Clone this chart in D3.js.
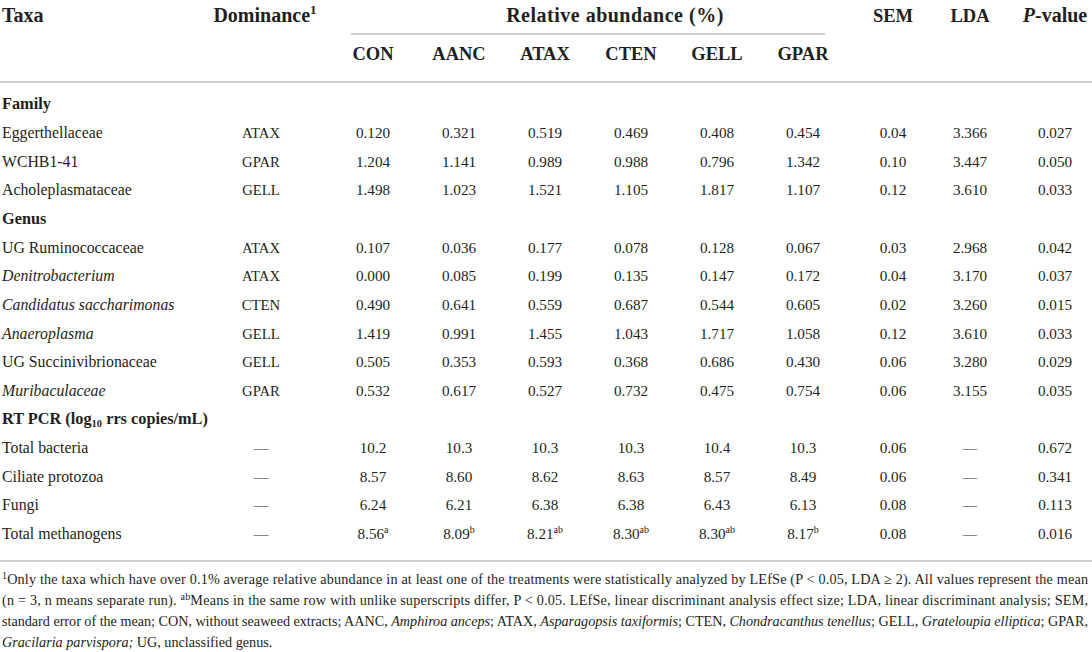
<!DOCTYPE html>
<html>
<head>
<meta charset="utf-8">
<script src="https://cdn.jsdelivr.net/npm/d3@7"></script>
<style>
  body { margin: 0; background: #fff; }
  svg { display: block; font-family: "Liberation Serif", "Times New Roman", serif; fill: #231f20; }
</style>
</head>
<body>
<div id="table"></div>
<script>
// table contents
var treatments = ["CON", "AANC", "ATAX", "CTEN", "GELL", "GPAR"];
var sections = ["Family", "Genus", "RT PCR"];
var familyTaxa = ["Eggerthellaceae", "WCHB1-41", "Acholeplasmataceae"];
var genusTaxa = ["UG Ruminococcaceae", "Denitrobacterium", "Candidatus saccharimonas", "Anaeroplasma", "UG Succinivibrionaceae", "Muribaculaceae"];
var genusItalic = [false, true, true, true, false, true];
var pcrTaxa = ["Total bacteria", "Ciliate protozoa", "Fungi", "Total methanogens"];
var dominance = ["ATAX", "GPAR", "GELL", "ATAX", "ATAX", "CTEN", "GELL", "GELL", "GPAR", "—", "—", "—", "—"];
var con  = ["0.120", "1.204", "1.498", "0.107", "0.000", "0.490", "1.419", "0.505", "0.532", "10.2", "8.57", "6.24", "8.56"];
var aanc = ["0.321", "1.141", "1.023", "0.036", "0.085", "0.641", "0.991", "0.353", "0.617", "10.3", "8.60", "6.21", "8.09"];
var atax = ["0.519", "0.989", "1.521", "0.177", "0.199", "0.559", "1.455", "0.593", "0.527", "10.3", "8.62", "6.38", "8.21"];
var cten = ["0.469", "0.988", "1.105", "0.078", "0.135", "0.687", "1.043", "0.368", "0.732", "10.3", "8.63", "6.38", "8.30"];
var gell = ["0.408", "0.796", "1.817", "0.128", "0.147", "0.544", "1.717", "0.686", "0.475", "10.4", "8.57", "6.43", "8.30"];
var gpar = ["0.454", "1.342", "1.107", "0.067", "0.172", "0.605", "1.058", "0.430", "0.754", "10.3", "8.49", "6.13", "8.17"];
var sem  = ["0.04", "0.10", "0.12", "0.03", "0.04", "0.02", "0.12", "0.06", "0.06", "0.06", "0.06", "0.08", "0.08"];
var lda  = ["3.366", "3.447", "3.610", "2.968", "3.170", "3.260", "3.610", "3.280", "3.155", "—", "—", "—", "—"];
var pValue = ["0.027", "0.050", "0.033", "0.042", "0.037", "0.015", "0.033", "0.029", "0.035", "0.672", "0.341", "0.113", "0.016"];
// superscripts on the last row (total methanogens)
var methanogenSup = ["a", "b", "ab", "ab", "ab", "b"];

var width = 1092, height = 652;
var ink = "#231f20", rule = "#cfcfcf";

var svg = d3.select("#table").append("svg")
  .attr("width", width)
  .attr("height", height);

// build the row list: section headings + data rows
var valueCols = [con, aanc, atax, cten, gell, gpar];
var rows = [];
var k = 0;
rows.push({ head: true, label: sections[0] });
familyTaxa.forEach(function(t) { rows.push({ label: t, italic: false, i: k++ }); });
rows.push({ head: true, label: sections[1] });
genusTaxa.forEach(function(t, j) { rows.push({ label: t, italic: genusItalic[j], i: k++ }); });
rows.push({ head: true, label: sections[2], pcr: true });
pcrTaxa.forEach(function(t) { rows.push({ label: t, italic: false, i: k++ }); });

var y = d3.scalePoint().domain(d3.range(rows.length)).range([109.4, 539]);
var x = d3.scalePoint().domain(treatments).range([373, 803]);
var xDom = 261, xSem = 893, xLda = 970, xP = 1055;

// rules
svg.append("line").attr("x1", 351).attr("x2", 825).attr("y1", 34).attr("y2", 34)
  .attr("stroke", rule).attr("stroke-width", 2);
svg.append("line").attr("x1", 0).attr("x2", width).attr("y1", 82).attr("y2", 82)
  .attr("stroke", rule).attr("stroke-width", 2);
svg.append("line").attr("x1", 0).attr("x2", width).attr("y1", 561).attr("y2", 561)
  .attr("stroke", rule).attr("stroke-width", 2);

// header (caps set a little smaller so widths follow the original face)
var hdr = svg.append("g").attr("font-weight", "bold").attr("font-size", 20).attr("fill", ink);
hdr.append("text").attr("x", 2).attr("y", 22).text("Taxa");
var dom = hdr.append("text").attr("x", xDom + 4).attr("y", 22).attr("text-anchor", "middle");
dom.append("tspan").text("Dominance");
dom.append("tspan").attr("font-size", 13).attr("dy", -8).text("1");
hdr.append("text").attr("x", 615).attr("y", 22).attr("text-anchor", "middle")
  .attr("letter-spacing", 0.5).text("Relative abundance (%)");
hdr.append("text").attr("x", xSem).attr("y", 22).attr("text-anchor", "middle").attr("font-size", 18.5).text("SEM");
hdr.append("text").attr("x", xLda).attr("y", 22).attr("text-anchor", "middle").attr("font-size", 18.5).text("LDA");
var pv = hdr.append("text").attr("x", xP).attr("y", 22).attr("text-anchor", "middle");
pv.append("tspan").attr("font-style", "italic").text("P");
pv.append("tspan").text("-value");
hdr.selectAll("text.trt").data(treatments).join("text")
  .attr("class", "trt")
  .attr("x", function(d) { return x(d); })
  .attr("y", 60)
  .attr("font-size", 18.5)
  .attr("text-anchor", "middle")
  .text(function(d) { return d; });

// body
var body = svg.append("g").attr("font-size", 15.2).attr("fill", ink);
var rowG = body.selectAll("g.row").data(rows).join("g")
  .attr("class", "row")
  .attr("transform", function(d, j) { return "translate(0," + y(j) + ")"; });

rowG.filter(function(d) { return d.head; }).each(function(d) {
  var t = d3.select(this).append("text").attr("x", 2).attr("font-weight", "bold").attr("font-size", 16.3);
  if (d.pcr) {
    t.append("tspan").text("RT PCR (log");
    t.append("tspan").attr("font-size", 10.5).attr("dy", 3).text("10");
    t.append("tspan").attr("dy", -3).text(" rrs copies/mL)");
  } else {
    t.text(d.label);
  }
});

var dataRows = rowG.filter(function(d) { return !d.head; });
dataRows.append("text").attr("x", 2).attr("font-size", 15.8)
  .attr("font-style", function(d) { return d.italic ? "italic" : null; })
  .text(function(d) { return d.label; });
dataRows.append("text").attr("x", xDom).attr("text-anchor", "middle").attr("font-size", 14.7)
  .text(function(d) { return dominance[d.i]; });

dataRows.each(function(d) {
  var g = d3.select(this);
  treatments.forEach(function(tr, c) {
    var t = g.append("text").attr("x", x(tr)).attr("text-anchor", "middle");
    t.append("tspan").text(valueCols[c][d.i]);
    if (d.i === con.length - 1) {
      t.append("tspan").attr("font-size", 10).attr("dy", -6).text(methanogenSup[c]);
    }
  });
});
dataRows.append("text").attr("x", xSem).attr("text-anchor", "middle").text(function(d) { return sem[d.i]; });
dataRows.append("text").attr("x", xLda).attr("text-anchor", "middle")
  .attr("font-size", function(d) { return lda[d.i] === "—" ? 14 : null; })
  .text(function(d) { return lda[d.i]; });
dataRows.append("text").attr("x", xP).attr("text-anchor", "middle").text(function(d) { return pValue[d.i]; });

// footnote, justified lines
var notes = [
  [["sup", "1"], ["", "Only the taxa which have over 0.1% average relative abundance in at least one of the treatments were statistically analyzed by LEfSe (P < 0.05, LDA ≥ 2). All values represent the mean"]],
  [["", "(n = 3, n means separate run). "], ["sup", "ab"], ["", "Means in the same row with unlike superscripts differ, P < 0.05. LEfSe, linear discriminant analysis effect size; LDA, linear discriminant analysis; SEM,"]],
  [["", "standard error of the mean; CON, without seaweed extracts; AANC, "], ["i", "Amphiroa anceps"], ["", "; ATAX, "], ["i", "Asparagopsis taxiformis"], ["", "; CTEN, "], ["i", "Chondracanthus tenellus"], ["", "; GELL, "], ["i", "Grateloupia elliptica"], ["", "; GPAR,"]],
  [["i", "Gracilaria parvispora;"], ["", " UG, unclassified genus."]]
];
var noteY = [584, 605, 626, 647];
var foot = svg.append("g").attr("font-size", 14.2).attr("fill", ink);
notes.forEach(function(parts, n) {
  var t = foot.append("text").attr("x", 2).attr("y", noteY[n]);
  if (n < 3) t.attr("textLength", 1086).attr("lengthAdjust", "spacing");
  parts.forEach(function(p) {
    var s = t.append("tspan").text(p[1]);
    if (p[0] === "i") s.attr("font-style", "italic");
    if (p[0] === "sup") s.attr("font-size", 10).attr("baseline-shift", "super");
  });
});
</script>
</body>
</html>
